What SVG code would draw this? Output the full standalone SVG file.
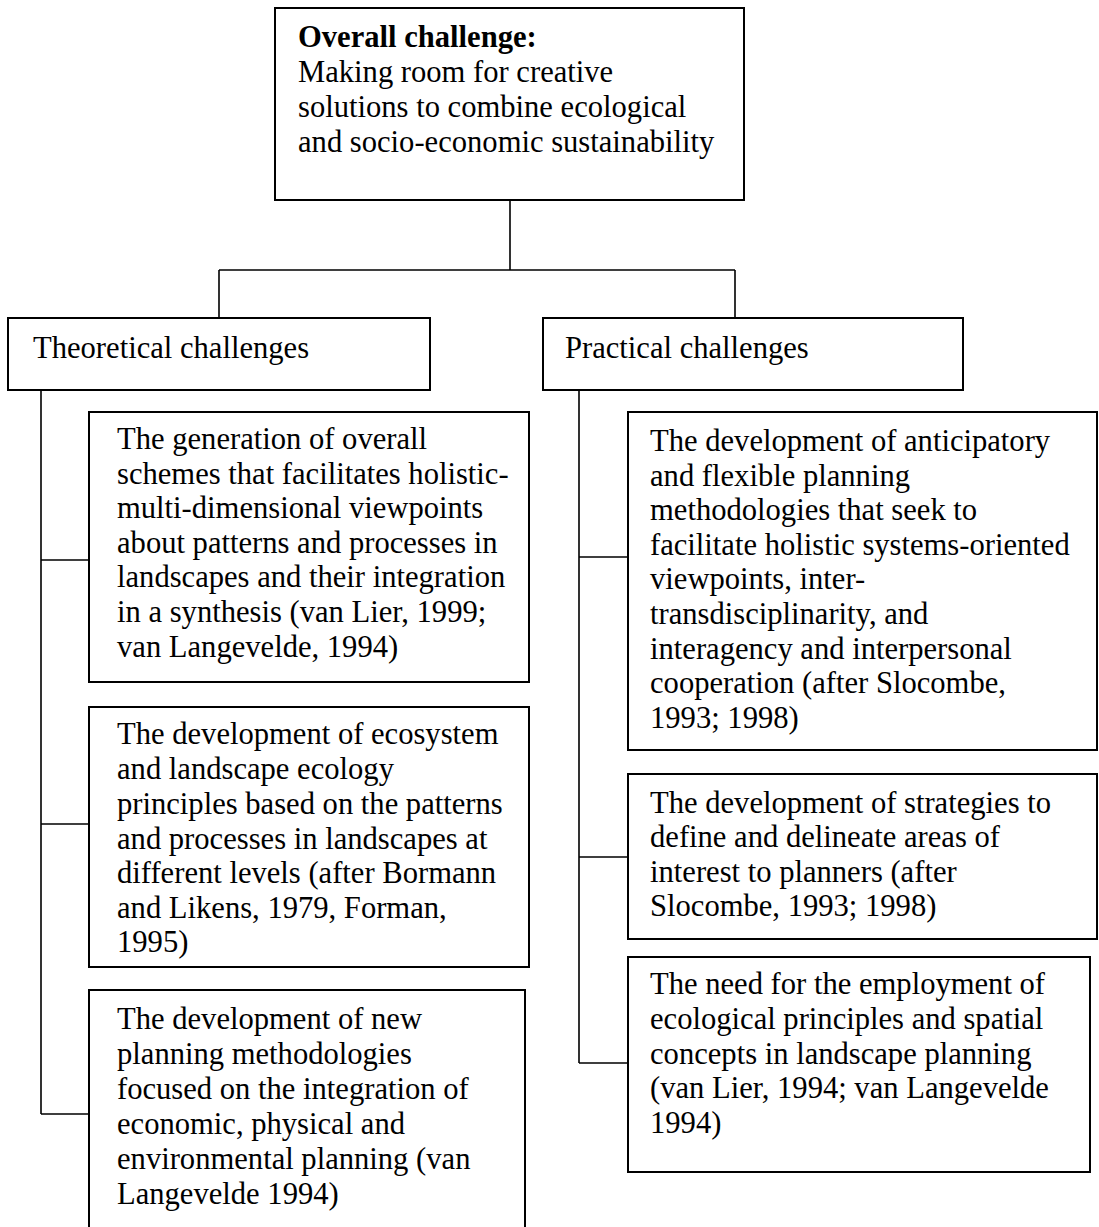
<svg xmlns="http://www.w3.org/2000/svg" width="1099" height="1227" viewBox="0 0 1099 1227">
  <style>
    .box { fill: #ffffff; stroke: #000000; stroke-width: 2; }
    .wire { fill: none; stroke: #000000; stroke-width: 1.6; }
    text { font-family: "Liberation Serif", "Times New Roman", serif; font-size: 30.6px; fill: #000000; }
    .bold { font-weight: bold; }
  </style>
  <rect width="1099" height="1227" fill="#ffffff"/>

  <!-- tree connectors -->
  <g id="connectors">
    <path class="wire" d="M510 200 V270 M219 270 H735 M219 270 V318 M735 270 V318"/>
    <path class="wire" d="M41 390 V1114 M41 560 H89 M41 824 H89 M41 1114 H89"/>
    <path class="wire" d="M579 390 V1063 M579 557 H628 M579 857 H628 M579 1063 H628"/>
  </g>

  <g id="overall">
    <rect class="box" x="275" y="8" width="469" height="192"/>
    <text x="298" y="47" class="bold">Overall challenge:</text>
    <text x="298" y="82">Making room for creative</text>
    <text x="298" y="117">solutions to combine ecological</text>
    <text x="298" y="152">and socio-economic sustainability</text>
  </g>

  <g id="theoretical">
    <rect class="box" x="8" y="318" width="422" height="72"/>
    <text x="33" y="358">Theoretical challenges</text>
  </g>

  <g id="practical">
    <rect class="box" x="543" y="318" width="420" height="72"/>
    <text x="565" y="358">Practical challenges</text>
  </g>

  <g id="theory-schemes">
    <rect class="box" x="89" y="412" width="440" height="270"/>
    <text x="117" y="449">The generation of overall</text>
    <text x="117" y="484">schemes that facilitates holistic-</text>
    <text x="117" y="518">multi-dimensional viewpoints</text>
    <text x="117" y="553">about patterns and processes in</text>
    <text x="117" y="587">landscapes and their integration</text>
    <text x="117" y="622">in a synthesis (van Lier, 1999;</text>
    <text x="117" y="657">van Langevelde, 1994)</text>
  </g>

  <g id="theory-principles">
    <rect class="box" x="89" y="707" width="440" height="260"/>
    <text x="117" y="744">The development of ecosystem</text>
    <text x="117" y="779">and landscape ecology</text>
    <text x="117" y="814">principles based on the patterns</text>
    <text x="117" y="849">and processes in landscapes at</text>
    <text x="117" y="883">different levels (after Bormann</text>
    <text x="117" y="918">and Likens, 1979, Forman,</text>
    <text x="117" y="952">1995)</text>
  </g>

  <g id="theory-methods">
    <rect class="box" x="89" y="990" width="436" height="250"/>
    <text x="117" y="1029">The development of new</text>
    <text x="117" y="1064">planning methodologies</text>
    <text x="117" y="1099">focused on the integration of</text>
    <text x="117" y="1134">economic, physical and</text>
    <text x="117" y="1169">environmental planning (van</text>
    <text x="117" y="1204">Langevelde 1994)</text>
  </g>

  <g id="practice-methods">
    <rect class="box" x="628" y="412" width="469" height="338"/>
    <text x="650" y="451">The development of anticipatory</text>
    <text x="650" y="486">and flexible planning</text>
    <text x="650" y="520">methodologies that seek to</text>
    <text x="650" y="555">facilitate holistic systems-oriented</text>
    <text x="650" y="589">viewpoints, inter-</text>
    <text x="650" y="624">transdisciplinarity, and</text>
    <text x="650" y="659">interagency and interpersonal</text>
    <text x="650" y="693">cooperation (after Slocombe,</text>
    <text x="650" y="728">1993; 1998)</text>
  </g>

  <g id="practice-areas">
    <rect class="box" x="628" y="774" width="469" height="165"/>
    <text x="650" y="813">The development of strategies to</text>
    <text x="650" y="847">define and delineate areas of</text>
    <text x="650" y="882">interest to planners (after</text>
    <text x="650" y="916">Slocombe, 1993; 1998)</text>
  </g>

  <g id="practice-principles">
    <rect class="box" x="628" y="957" width="462" height="215"/>
    <text x="650" y="994">The need for the employment of</text>
    <text x="650" y="1029">ecological principles and spatial</text>
    <text x="650" y="1064">concepts in landscape planning</text>
    <text x="650" y="1098">(van Lier, 1994; van Langevelde</text>
    <text x="650" y="1133">1994)</text>
  </g>
</svg>
